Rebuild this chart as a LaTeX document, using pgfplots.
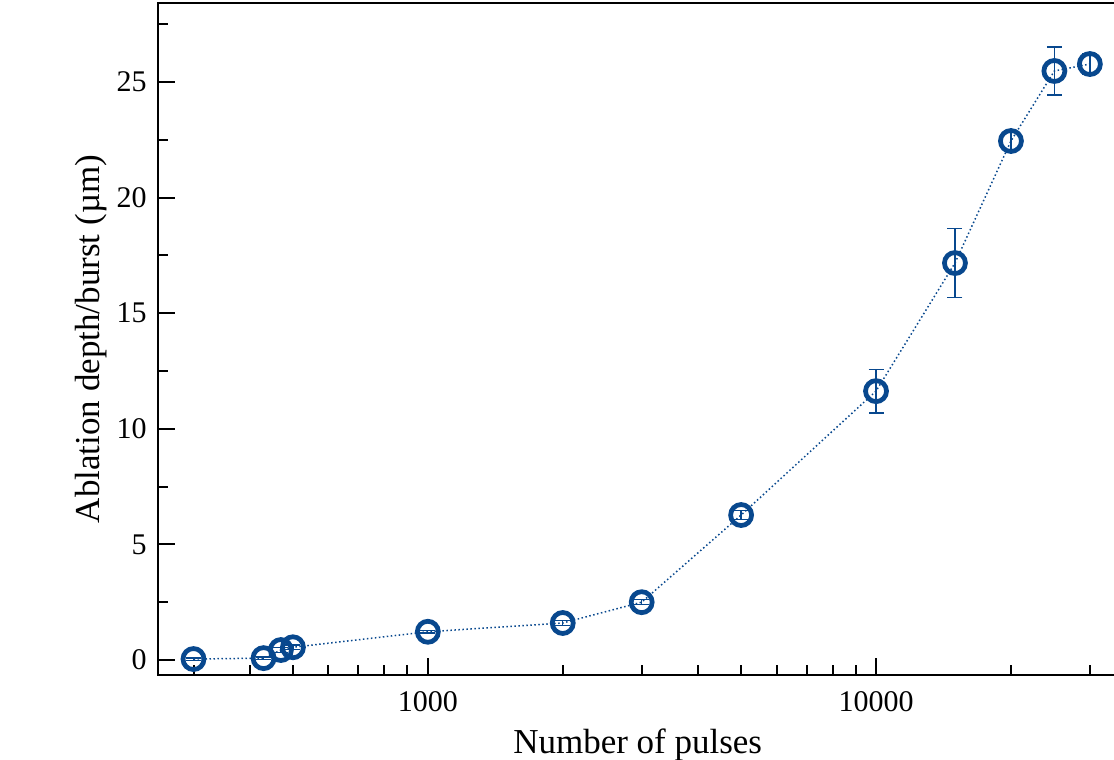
\documentclass[border=0pt]{standalone}
\usepackage{fontspec}
\setmainfont{Liberation Serif}
\usepackage{pgfplots}
\pgfplotsset{compat=1.18}
\definecolor{dblue}{RGB}{8,72,142}
\pgfplotstableread{
x y e
300 0.04 0.05
430 0.08 0.05
470 0.43 0.1
500 0.55 0.1
1000 1.22 0.05
2000 1.60 0.1
3000 2.50 0.1
5000 6.27 0.2
10000 11.63 0.95
15000 17.17 1.5
20000 22.45 0.4
25000 25.48 1.04
30000 25.78 0.45
}\datatab
\begin{document}
\begin{tikzpicture}
\path[use as bounding box] (0,0) rectangle (445.6pt,303.6pt);
\begin{axis}[
  at={(63.2pt,33.6pt)}, anchor=south west,
  scale only axis, width=390pt, height=268.8pt,
  xmode=log, xmin=250, xmax=37450, ymin=-0.65, ymax=28.42,
  xtick={1000,10000}, xticklabels={1000,10000},
  minor xtick={300,400,500,600,700,800,900,2000,3000,4000,5000,6000,7000,8000,9000,20000,30000},
  ytick={0,5,10,15,20,25},
  minor ytick={2.5,7.5,12.5,17.5,22.5,27.5},
  tick align=inside, xtick pos=bottom, ytick pos=left,
  major tick length=7pt, minor tick length=4pt,
  every tick/.style={black, line width=0.8pt},
  axis line style={black, line width=1pt},
  /pgf/number format/assume math mode=true,
  tick label style={font=\fontsize{12}{14}\selectfont},
  label style={font=\fontsize{14}{16}\selectfont},
  xlabel={Number of pulses},
  ylabel={Ablation depth/burst (µm)},
  xlabel style={at={(axis description cs:0.492,0)}, anchor=north, yshift=-18pt},
  ylabel style={at={(axis description cs:0,0.5)}, anchor=south, yshift=17pt},
  xticklabel style={yshift=-3pt},
  yticklabel style={xshift=-1pt},
  clip=false,
]
\addplot[color=dblue, densely dotted, line width=0.6pt,
  mark=o, mark size=4.2pt,
  mark options={solid, line width=1.9pt, draw=dblue, fill=none},
  error bars/.cd, y dir=both, y explicit,
  error bar style={solid, line width=0.5pt, color=dblue},
  error mark options={rotate=90, mark size=3pt, line width=0.5pt, color=dblue, solid}]
  table[x=x, y=y, y error=e] {\datatab};
\end{axis}
\end{tikzpicture}
\end{document}
